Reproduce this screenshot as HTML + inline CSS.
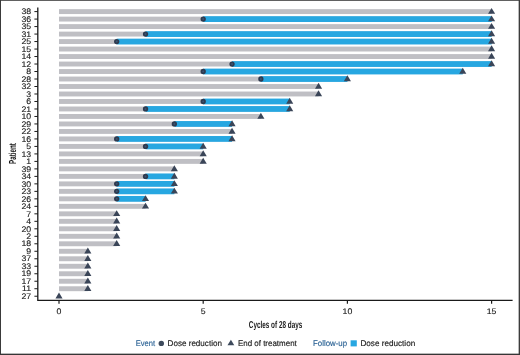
<!DOCTYPE html><html><head><meta charset="utf-8"><style>html,body{margin:0;padding:0;background:#fff}svg{display:block;will-change:transform;transform:translateZ(0)}text{font-family:"Liberation Sans",sans-serif;text-rendering:geometricPrecision}</style></head><body>
<svg width="520" height="355" viewBox="0 0 520 355">
<rect x="0" y="0" width="520" height="355" fill="#fff"/>
<rect x="0" y="0" width="520" height="0.9" fill="#505050"/><rect x="0" y="0" width="1" height="355" fill="#3a3a3a"/><rect x="518.65" y="0" width="1.35" height="355" fill="#3c3c3c"/><rect x="0" y="353.65" width="520" height="1.35" fill="#363636"/>
<path d="M37.8 7.4V300.4H512.6" fill="none" stroke="#1a1a1a" stroke-width="1.3"/>
<path d="M34.4 11.60H37.8" stroke="#1a1a1a" stroke-width="1"/>
<text transform="translate(31.20 14.30) scale(1.080 1)" font-size="8.1" text-anchor="end" fill="#1a1a1a" font-weight="normal" stroke="#1a1a1a" stroke-width="0.12">38</text>
<rect x="59.0" y="9.15" width="432.60" height="4.9" fill="#bfbfc4"/>
<path d="M34.4 19.09H37.8" stroke="#1a1a1a" stroke-width="1"/>
<text transform="translate(31.20 21.79) scale(1.080 1)" font-size="8.1" text-anchor="end" fill="#1a1a1a" font-weight="normal" stroke="#1a1a1a" stroke-width="0.12">36</text>
<rect x="59.0" y="16.64" width="432.60" height="4.9" fill="#bfbfc4"/>
<rect x="203.20" y="16.19" width="288.40" height="5.8" fill="#27a7e1"/>
<path d="M34.4 26.58H37.8" stroke="#1a1a1a" stroke-width="1"/>
<text transform="translate(31.20 29.28) scale(1.080 1)" font-size="8.1" text-anchor="end" fill="#1a1a1a" font-weight="normal" stroke="#1a1a1a" stroke-width="0.12">35</text>
<rect x="59.0" y="24.13" width="432.60" height="4.9" fill="#bfbfc4"/>
<path d="M34.4 34.07H37.8" stroke="#1a1a1a" stroke-width="1"/>
<text transform="translate(31.20 36.77) scale(1.080 1)" font-size="8.1" text-anchor="end" fill="#1a1a1a" font-weight="normal" stroke="#1a1a1a" stroke-width="0.12">31</text>
<rect x="59.0" y="31.62" width="432.60" height="4.9" fill="#bfbfc4"/>
<rect x="145.52" y="31.17" width="346.08" height="5.8" fill="#27a7e1"/>
<path d="M34.4 41.56H37.8" stroke="#1a1a1a" stroke-width="1"/>
<text transform="translate(31.20 44.26) scale(1.080 1)" font-size="8.1" text-anchor="end" fill="#1a1a1a" font-weight="normal" stroke="#1a1a1a" stroke-width="0.12">25</text>
<rect x="59.0" y="39.11" width="432.60" height="4.9" fill="#bfbfc4"/>
<rect x="116.68" y="38.66" width="374.92" height="5.8" fill="#27a7e1"/>
<path d="M34.4 49.05H37.8" stroke="#1a1a1a" stroke-width="1"/>
<text transform="translate(31.20 51.75) scale(1.080 1)" font-size="8.1" text-anchor="end" fill="#1a1a1a" font-weight="normal" stroke="#1a1a1a" stroke-width="0.12">15</text>
<rect x="59.0" y="46.60" width="432.60" height="4.9" fill="#bfbfc4"/>
<path d="M34.4 56.54H37.8" stroke="#1a1a1a" stroke-width="1"/>
<text transform="translate(31.20 59.24) scale(1.080 1)" font-size="8.1" text-anchor="end" fill="#1a1a1a" font-weight="normal" stroke="#1a1a1a" stroke-width="0.12">14</text>
<rect x="59.0" y="54.09" width="432.60" height="4.9" fill="#bfbfc4"/>
<path d="M34.4 64.03H37.8" stroke="#1a1a1a" stroke-width="1"/>
<text transform="translate(31.20 66.73) scale(1.080 1)" font-size="8.1" text-anchor="end" fill="#1a1a1a" font-weight="normal" stroke="#1a1a1a" stroke-width="0.12">12</text>
<rect x="59.0" y="61.58" width="432.60" height="4.9" fill="#bfbfc4"/>
<rect x="232.04" y="61.13" width="259.56" height="5.8" fill="#27a7e1"/>
<path d="M34.4 71.52H37.8" stroke="#1a1a1a" stroke-width="1"/>
<text transform="translate(31.20 74.22) scale(1.080 1)" font-size="8.1" text-anchor="end" fill="#1a1a1a" font-weight="normal" stroke="#1a1a1a" stroke-width="0.12">8</text>
<rect x="59.0" y="69.07" width="403.76" height="4.9" fill="#bfbfc4"/>
<rect x="203.20" y="68.62" width="259.56" height="5.8" fill="#27a7e1"/>
<path d="M34.4 79.01H37.8" stroke="#1a1a1a" stroke-width="1"/>
<text transform="translate(31.20 81.71) scale(1.080 1)" font-size="8.1" text-anchor="end" fill="#1a1a1a" font-weight="normal" stroke="#1a1a1a" stroke-width="0.12">28</text>
<rect x="59.0" y="76.56" width="288.40" height="4.9" fill="#bfbfc4"/>
<rect x="260.88" y="76.11" width="86.52" height="5.8" fill="#27a7e1"/>
<path d="M34.4 86.50H37.8" stroke="#1a1a1a" stroke-width="1"/>
<text transform="translate(31.20 89.20) scale(1.080 1)" font-size="8.1" text-anchor="end" fill="#1a1a1a" font-weight="normal" stroke="#1a1a1a" stroke-width="0.12">32</text>
<rect x="59.0" y="84.05" width="259.56" height="4.9" fill="#bfbfc4"/>
<path d="M34.4 93.99H37.8" stroke="#1a1a1a" stroke-width="1"/>
<text transform="translate(31.20 96.69) scale(1.080 1)" font-size="8.1" text-anchor="end" fill="#1a1a1a" font-weight="normal" stroke="#1a1a1a" stroke-width="0.12">3</text>
<rect x="59.0" y="91.54" width="259.56" height="4.9" fill="#bfbfc4"/>
<path d="M34.4 101.48H37.8" stroke="#1a1a1a" stroke-width="1"/>
<text transform="translate(31.20 104.18) scale(1.080 1)" font-size="8.1" text-anchor="end" fill="#1a1a1a" font-weight="normal" stroke="#1a1a1a" stroke-width="0.12">6</text>
<rect x="59.0" y="99.03" width="230.72" height="4.9" fill="#bfbfc4"/>
<rect x="203.20" y="98.58" width="86.52" height="5.8" fill="#27a7e1"/>
<path d="M34.4 108.97H37.8" stroke="#1a1a1a" stroke-width="1"/>
<text transform="translate(31.20 111.67) scale(1.080 1)" font-size="8.1" text-anchor="end" fill="#1a1a1a" font-weight="normal" stroke="#1a1a1a" stroke-width="0.12">21</text>
<rect x="59.0" y="106.52" width="230.72" height="4.9" fill="#bfbfc4"/>
<rect x="145.52" y="106.07" width="144.20" height="5.8" fill="#27a7e1"/>
<path d="M34.4 116.46H37.8" stroke="#1a1a1a" stroke-width="1"/>
<text transform="translate(31.20 119.16) scale(1.080 1)" font-size="8.1" text-anchor="end" fill="#1a1a1a" font-weight="normal" stroke="#1a1a1a" stroke-width="0.12">10</text>
<rect x="59.0" y="114.01" width="201.88" height="4.9" fill="#bfbfc4"/>
<path d="M34.4 123.95H37.8" stroke="#1a1a1a" stroke-width="1"/>
<text transform="translate(31.20 126.65) scale(1.080 1)" font-size="8.1" text-anchor="end" fill="#1a1a1a" font-weight="normal" stroke="#1a1a1a" stroke-width="0.12">29</text>
<rect x="59.0" y="121.50" width="173.04" height="4.9" fill="#bfbfc4"/>
<rect x="174.36" y="121.05" width="57.68" height="5.8" fill="#27a7e1"/>
<path d="M34.4 131.44H37.8" stroke="#1a1a1a" stroke-width="1"/>
<text transform="translate(31.20 134.14) scale(1.080 1)" font-size="8.1" text-anchor="end" fill="#1a1a1a" font-weight="normal" stroke="#1a1a1a" stroke-width="0.12">22</text>
<rect x="59.0" y="128.99" width="173.04" height="4.9" fill="#bfbfc4"/>
<path d="M34.4 138.93H37.8" stroke="#1a1a1a" stroke-width="1"/>
<text transform="translate(31.20 141.63) scale(1.080 1)" font-size="8.1" text-anchor="end" fill="#1a1a1a" font-weight="normal" stroke="#1a1a1a" stroke-width="0.12">16</text>
<rect x="59.0" y="136.48" width="173.04" height="4.9" fill="#bfbfc4"/>
<rect x="116.68" y="136.03" width="115.36" height="5.8" fill="#27a7e1"/>
<path d="M34.4 146.42H37.8" stroke="#1a1a1a" stroke-width="1"/>
<text transform="translate(31.20 149.12) scale(1.080 1)" font-size="8.1" text-anchor="end" fill="#1a1a1a" font-weight="normal" stroke="#1a1a1a" stroke-width="0.12">5</text>
<rect x="59.0" y="143.97" width="144.20" height="4.9" fill="#bfbfc4"/>
<rect x="145.52" y="143.52" width="57.68" height="5.8" fill="#27a7e1"/>
<path d="M34.4 153.91H37.8" stroke="#1a1a1a" stroke-width="1"/>
<text transform="translate(31.20 156.61) scale(1.080 1)" font-size="8.1" text-anchor="end" fill="#1a1a1a" font-weight="normal" stroke="#1a1a1a" stroke-width="0.12">13</text>
<rect x="59.0" y="151.46" width="144.20" height="4.9" fill="#bfbfc4"/>
<path d="M34.4 161.40H37.8" stroke="#1a1a1a" stroke-width="1"/>
<text transform="translate(31.20 164.10) scale(1.080 1)" font-size="8.1" text-anchor="end" fill="#1a1a1a" font-weight="normal" stroke="#1a1a1a" stroke-width="0.12">1</text>
<rect x="59.0" y="158.95" width="144.20" height="4.9" fill="#bfbfc4"/>
<path d="M34.4 168.89H37.8" stroke="#1a1a1a" stroke-width="1"/>
<text transform="translate(31.20 171.59) scale(1.080 1)" font-size="8.1" text-anchor="end" fill="#1a1a1a" font-weight="normal" stroke="#1a1a1a" stroke-width="0.12">39</text>
<rect x="59.0" y="166.44" width="115.36" height="4.9" fill="#bfbfc4"/>
<path d="M34.4 176.38H37.8" stroke="#1a1a1a" stroke-width="1"/>
<text transform="translate(31.20 179.08) scale(1.080 1)" font-size="8.1" text-anchor="end" fill="#1a1a1a" font-weight="normal" stroke="#1a1a1a" stroke-width="0.12">34</text>
<rect x="59.0" y="173.93" width="115.36" height="4.9" fill="#bfbfc4"/>
<rect x="145.52" y="173.48" width="28.84" height="5.8" fill="#27a7e1"/>
<path d="M34.4 183.87H37.8" stroke="#1a1a1a" stroke-width="1"/>
<text transform="translate(31.20 186.57) scale(1.080 1)" font-size="8.1" text-anchor="end" fill="#1a1a1a" font-weight="normal" stroke="#1a1a1a" stroke-width="0.12">30</text>
<rect x="59.0" y="181.42" width="115.36" height="4.9" fill="#bfbfc4"/>
<rect x="116.68" y="180.97" width="57.68" height="5.8" fill="#27a7e1"/>
<path d="M34.4 191.36H37.8" stroke="#1a1a1a" stroke-width="1"/>
<text transform="translate(31.20 194.06) scale(1.080 1)" font-size="8.1" text-anchor="end" fill="#1a1a1a" font-weight="normal" stroke="#1a1a1a" stroke-width="0.12">23</text>
<rect x="59.0" y="188.91" width="115.36" height="4.9" fill="#bfbfc4"/>
<rect x="116.68" y="188.46" width="57.68" height="5.8" fill="#27a7e1"/>
<path d="M34.4 198.85H37.8" stroke="#1a1a1a" stroke-width="1"/>
<text transform="translate(31.20 201.55) scale(1.080 1)" font-size="8.1" text-anchor="end" fill="#1a1a1a" font-weight="normal" stroke="#1a1a1a" stroke-width="0.12">26</text>
<rect x="59.0" y="196.40" width="86.52" height="4.9" fill="#bfbfc4"/>
<rect x="116.68" y="195.95" width="28.84" height="5.8" fill="#27a7e1"/>
<path d="M34.4 206.34H37.8" stroke="#1a1a1a" stroke-width="1"/>
<text transform="translate(31.20 209.04) scale(1.080 1)" font-size="8.1" text-anchor="end" fill="#1a1a1a" font-weight="normal" stroke="#1a1a1a" stroke-width="0.12">24</text>
<rect x="59.0" y="203.89" width="86.52" height="4.9" fill="#bfbfc4"/>
<path d="M34.4 213.83H37.8" stroke="#1a1a1a" stroke-width="1"/>
<text transform="translate(31.20 216.53) scale(1.080 1)" font-size="8.1" text-anchor="end" fill="#1a1a1a" font-weight="normal" stroke="#1a1a1a" stroke-width="0.12">7</text>
<rect x="59.0" y="211.38" width="57.68" height="4.9" fill="#bfbfc4"/>
<path d="M34.4 221.32H37.8" stroke="#1a1a1a" stroke-width="1"/>
<text transform="translate(31.20 224.02) scale(1.080 1)" font-size="8.1" text-anchor="end" fill="#1a1a1a" font-weight="normal" stroke="#1a1a1a" stroke-width="0.12">4</text>
<rect x="59.0" y="218.87" width="57.68" height="4.9" fill="#bfbfc4"/>
<path d="M34.4 228.81H37.8" stroke="#1a1a1a" stroke-width="1"/>
<text transform="translate(31.20 231.51) scale(1.080 1)" font-size="8.1" text-anchor="end" fill="#1a1a1a" font-weight="normal" stroke="#1a1a1a" stroke-width="0.12">20</text>
<rect x="59.0" y="226.36" width="57.68" height="4.9" fill="#bfbfc4"/>
<path d="M34.4 236.30H37.8" stroke="#1a1a1a" stroke-width="1"/>
<text transform="translate(31.20 239.00) scale(1.080 1)" font-size="8.1" text-anchor="end" fill="#1a1a1a" font-weight="normal" stroke="#1a1a1a" stroke-width="0.12">2</text>
<rect x="59.0" y="233.85" width="57.68" height="4.9" fill="#bfbfc4"/>
<path d="M34.4 243.79H37.8" stroke="#1a1a1a" stroke-width="1"/>
<text transform="translate(31.20 246.49) scale(1.080 1)" font-size="8.1" text-anchor="end" fill="#1a1a1a" font-weight="normal" stroke="#1a1a1a" stroke-width="0.12">18</text>
<rect x="59.0" y="241.34" width="57.68" height="4.9" fill="#bfbfc4"/>
<path d="M34.4 251.28H37.8" stroke="#1a1a1a" stroke-width="1"/>
<text transform="translate(31.20 253.98) scale(1.080 1)" font-size="8.1" text-anchor="end" fill="#1a1a1a" font-weight="normal" stroke="#1a1a1a" stroke-width="0.12">9</text>
<rect x="59.0" y="248.83" width="28.84" height="4.9" fill="#bfbfc4"/>
<path d="M34.4 258.77H37.8" stroke="#1a1a1a" stroke-width="1"/>
<text transform="translate(31.20 261.47) scale(1.080 1)" font-size="8.1" text-anchor="end" fill="#1a1a1a" font-weight="normal" stroke="#1a1a1a" stroke-width="0.12">37</text>
<rect x="59.0" y="256.32" width="28.84" height="4.9" fill="#bfbfc4"/>
<path d="M34.4 266.26H37.8" stroke="#1a1a1a" stroke-width="1"/>
<text transform="translate(31.20 268.96) scale(1.080 1)" font-size="8.1" text-anchor="end" fill="#1a1a1a" font-weight="normal" stroke="#1a1a1a" stroke-width="0.12">33</text>
<rect x="59.0" y="263.81" width="28.84" height="4.9" fill="#bfbfc4"/>
<path d="M34.4 273.75H37.8" stroke="#1a1a1a" stroke-width="1"/>
<text transform="translate(31.20 276.45) scale(1.080 1)" font-size="8.1" text-anchor="end" fill="#1a1a1a" font-weight="normal" stroke="#1a1a1a" stroke-width="0.12">19</text>
<rect x="59.0" y="271.30" width="28.84" height="4.9" fill="#bfbfc4"/>
<path d="M34.4 281.24H37.8" stroke="#1a1a1a" stroke-width="1"/>
<text transform="translate(31.20 283.94) scale(1.080 1)" font-size="8.1" text-anchor="end" fill="#1a1a1a" font-weight="normal" stroke="#1a1a1a" stroke-width="0.12">17</text>
<rect x="59.0" y="278.79" width="28.84" height="4.9" fill="#bfbfc4"/>
<path d="M34.4 288.73H37.8" stroke="#1a1a1a" stroke-width="1"/>
<text transform="translate(31.20 291.43) scale(1.080 1)" font-size="8.1" text-anchor="end" fill="#1a1a1a" font-weight="normal" stroke="#1a1a1a" stroke-width="0.12">11</text>
<rect x="59.0" y="286.28" width="28.84" height="4.9" fill="#bfbfc4"/>
<path d="M34.4 296.22H37.8" stroke="#1a1a1a" stroke-width="1"/>
<text transform="translate(31.20 298.92) scale(1.080 1)" font-size="8.1" text-anchor="end" fill="#1a1a1a" font-weight="normal" stroke="#1a1a1a" stroke-width="0.12">27</text>
<path d="M488.05 13.85L491.60 7.90L495.15 13.85Z" fill="#3a4558"/>
<circle cx="203.20" cy="19.09" r="2.65" fill="#2e3a4f"/><circle cx="203.20" cy="19.09" r="1.0" fill="#3a5473"/>
<path d="M488.05 21.34L491.60 15.39L495.15 21.34Z" fill="#3a4558"/>
<path d="M488.05 28.83L491.60 22.88L495.15 28.83Z" fill="#3a4558"/>
<circle cx="145.52" cy="34.07" r="2.65" fill="#2e3a4f"/><circle cx="145.52" cy="34.07" r="1.0" fill="#3a5473"/>
<path d="M488.05 36.32L491.60 30.37L495.15 36.32Z" fill="#3a4558"/>
<circle cx="116.68" cy="41.56" r="2.65" fill="#2e3a4f"/><circle cx="116.68" cy="41.56" r="1.0" fill="#3a5473"/>
<path d="M488.05 43.81L491.60 37.86L495.15 43.81Z" fill="#3a4558"/>
<path d="M488.05 51.30L491.60 45.35L495.15 51.30Z" fill="#3a4558"/>
<path d="M488.05 58.79L491.60 52.84L495.15 58.79Z" fill="#3a4558"/>
<circle cx="232.04" cy="64.03" r="2.65" fill="#2e3a4f"/><circle cx="232.04" cy="64.03" r="1.0" fill="#3a5473"/>
<path d="M488.05 66.28L491.60 60.33L495.15 66.28Z" fill="#3a4558"/>
<circle cx="203.20" cy="71.52" r="2.65" fill="#2e3a4f"/><circle cx="203.20" cy="71.52" r="1.0" fill="#3a5473"/>
<path d="M459.21 73.77L462.76 67.82L466.31 73.77Z" fill="#3a4558"/>
<circle cx="260.88" cy="79.01" r="2.65" fill="#2e3a4f"/><circle cx="260.88" cy="79.01" r="1.0" fill="#3a5473"/>
<path d="M343.85 81.26L347.40 75.31L350.95 81.26Z" fill="#3a4558"/>
<path d="M315.01 88.75L318.56 82.80L322.11 88.75Z" fill="#3a4558"/>
<path d="M315.01 96.24L318.56 90.29L322.11 96.24Z" fill="#3a4558"/>
<circle cx="203.20" cy="101.48" r="2.65" fill="#2e3a4f"/><circle cx="203.20" cy="101.48" r="1.0" fill="#3a5473"/>
<path d="M286.17 103.73L289.72 97.78L293.27 103.73Z" fill="#3a4558"/>
<circle cx="145.52" cy="108.97" r="2.65" fill="#2e3a4f"/><circle cx="145.52" cy="108.97" r="1.0" fill="#3a5473"/>
<path d="M286.17 111.22L289.72 105.27L293.27 111.22Z" fill="#3a4558"/>
<path d="M257.33 118.71L260.88 112.76L264.43 118.71Z" fill="#3a4558"/>
<circle cx="174.36" cy="123.95" r="2.65" fill="#2e3a4f"/><circle cx="174.36" cy="123.95" r="1.0" fill="#3a5473"/>
<path d="M228.49 126.20L232.04 120.25L235.59 126.20Z" fill="#3a4558"/>
<path d="M228.49 133.69L232.04 127.74L235.59 133.69Z" fill="#3a4558"/>
<circle cx="116.68" cy="138.93" r="2.65" fill="#2e3a4f"/><circle cx="116.68" cy="138.93" r="1.0" fill="#3a5473"/>
<path d="M228.49 141.18L232.04 135.23L235.59 141.18Z" fill="#3a4558"/>
<circle cx="145.52" cy="146.42" r="2.65" fill="#2e3a4f"/><circle cx="145.52" cy="146.42" r="1.0" fill="#3a5473"/>
<path d="M199.65 148.67L203.20 142.72L206.75 148.67Z" fill="#3a4558"/>
<path d="M199.65 156.16L203.20 150.21L206.75 156.16Z" fill="#3a4558"/>
<path d="M199.65 163.65L203.20 157.70L206.75 163.65Z" fill="#3a4558"/>
<path d="M170.81 171.14L174.36 165.19L177.91 171.14Z" fill="#3a4558"/>
<circle cx="145.52" cy="176.38" r="2.65" fill="#2e3a4f"/><circle cx="145.52" cy="176.38" r="1.0" fill="#3a5473"/>
<path d="M170.81 178.63L174.36 172.68L177.91 178.63Z" fill="#3a4558"/>
<circle cx="116.68" cy="183.87" r="2.65" fill="#2e3a4f"/><circle cx="116.68" cy="183.87" r="1.0" fill="#3a5473"/>
<path d="M170.81 186.12L174.36 180.17L177.91 186.12Z" fill="#3a4558"/>
<circle cx="116.68" cy="191.36" r="2.65" fill="#2e3a4f"/><circle cx="116.68" cy="191.36" r="1.0" fill="#3a5473"/>
<path d="M170.81 193.61L174.36 187.66L177.91 193.61Z" fill="#3a4558"/>
<circle cx="116.68" cy="198.85" r="2.65" fill="#2e3a4f"/><circle cx="116.68" cy="198.85" r="1.0" fill="#3a5473"/>
<path d="M141.97 201.10L145.52 195.15L149.07 201.10Z" fill="#3a4558"/>
<path d="M141.97 208.59L145.52 202.64L149.07 208.59Z" fill="#3a4558"/>
<path d="M113.13 216.08L116.68 210.13L120.23 216.08Z" fill="#3a4558"/>
<path d="M113.13 223.57L116.68 217.62L120.23 223.57Z" fill="#3a4558"/>
<path d="M113.13 231.06L116.68 225.11L120.23 231.06Z" fill="#3a4558"/>
<path d="M113.13 238.55L116.68 232.60L120.23 238.55Z" fill="#3a4558"/>
<path d="M113.13 246.04L116.68 240.09L120.23 246.04Z" fill="#3a4558"/>
<path d="M84.29 253.53L87.84 247.58L91.39 253.53Z" fill="#3a4558"/>
<path d="M84.29 261.02L87.84 255.07L91.39 261.02Z" fill="#3a4558"/>
<path d="M84.29 268.51L87.84 262.56L91.39 268.51Z" fill="#3a4558"/>
<path d="M84.29 276.00L87.84 270.05L91.39 276.00Z" fill="#3a4558"/>
<path d="M84.29 283.49L87.84 277.54L91.39 283.49Z" fill="#3a4558"/>
<path d="M84.29 290.98L87.84 285.03L91.39 290.98Z" fill="#3a4558"/>
<path d="M55.45 298.47L59.00 292.52L62.55 298.47Z" fill="#3a4558"/>
<path d="M59.00 300.4V303.7" stroke="#1a1a1a" stroke-width="1.2"/>
<text transform="translate(59.00 313.90) scale(1.080 1)" font-size="8.1" text-anchor="middle" fill="#1a1a1a" font-weight="normal" stroke="#1a1a1a" stroke-width="0.12">0</text>
<path d="M203.20 300.4V303.7" stroke="#1a1a1a" stroke-width="1.2"/>
<text transform="translate(203.20 313.90) scale(1.080 1)" font-size="8.1" text-anchor="middle" fill="#1a1a1a" font-weight="normal" stroke="#1a1a1a" stroke-width="0.12">5</text>
<path d="M347.40 300.4V303.7" stroke="#1a1a1a" stroke-width="1.2"/>
<text transform="translate(347.40 313.90) scale(1.080 1)" font-size="8.1" text-anchor="middle" fill="#1a1a1a" font-weight="normal" stroke="#1a1a1a" stroke-width="0.12">10</text>
<path d="M491.60 300.4V303.7" stroke="#1a1a1a" stroke-width="1.2"/>
<text transform="translate(491.60 313.90) scale(1.080 1)" font-size="8.1" text-anchor="middle" fill="#1a1a1a" font-weight="normal" stroke="#1a1a1a" stroke-width="0.12">15</text>
<text transform="translate(248.80 327.70) scale(0.637 1)" font-size="10.0" text-anchor="start" fill="#1c1c1c" font-weight="bold">Cycles of 28 days</text>
<text transform="translate(15.80 164.00) rotate(-90) scale(0.612 1)" font-size="10.2" text-anchor="start" fill="#111" font-weight="bold">Patient</text>
<text transform="translate(135.70 346.10) scale(0.925 1)" font-size="8.2" text-anchor="start" fill="#2d6496" font-weight="normal" stroke="#2d6496" stroke-width="0.15">Event</text>
<circle cx="161.3" cy="343.4" r="2.7" fill="#3d4a5c"/>
<text transform="translate(167.60 346.10) scale(0.986 1)" font-size="8.2" text-anchor="start" fill="#1a1a1a" font-weight="normal" stroke="#1a1a1a" stroke-width="0.15">Dose reduction</text>
<path d="M227.5 345.3L230.9 339.7L234.3 345.3Z" fill="#3d4a5c"/>
<text transform="translate(237.90 346.10) scale(0.973 1)" font-size="8.2" text-anchor="start" fill="#1a1a1a" font-weight="normal" stroke="#1a1a1a" stroke-width="0.15">End of treatment</text>
<text transform="translate(313.00 346.10) scale(0.959 1)" font-size="8.2" text-anchor="start" fill="#2d6496" font-weight="normal" stroke="#2d6496" stroke-width="0.15">Follow-up</text>
<rect x="350.6" y="340.3" width="6.2" height="6.1" fill="#27a7e1"/>
<text transform="translate(360.40 346.10) scale(0.995 1)" font-size="8.2" text-anchor="start" fill="#1a1a1a" font-weight="normal" stroke="#1a1a1a" stroke-width="0.15">Dose reduction</text>
</svg></body></html>
